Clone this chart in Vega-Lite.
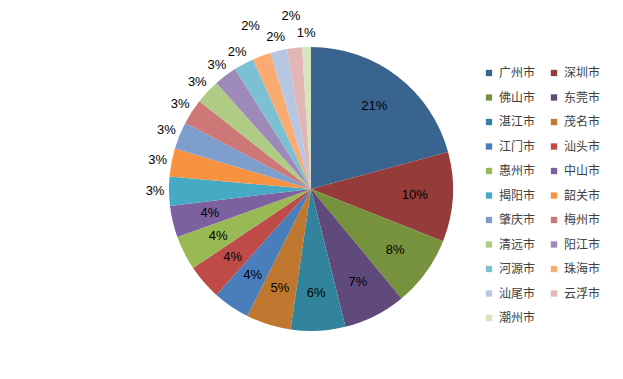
{
  "$schema": "https://vega.github.io/schema/vega-lite/v6.json",
  "width": 608,
  "height": 364,
  "padding": {"left": 7, "top": 7, "right": 8, "bottom": 8},
  "background": "white",
  "config": {
    "view": {"stroke": "#8a8a8a", "strokeWidth": 1},
    "font": "Noto Sans CJK SC"
  },
  "data": {
    "values": [
      {"idx": 1, "city": "广州市", "share": 0.208},
      {"idx": 2, "city": "深圳市", "share": 0.102},
      {"idx": 3, "city": "佛山市", "share": 0.080},
      {"idx": 4, "city": "东莞市", "share": 0.071},
      {"idx": 5, "city": "湛江市", "share": 0.062},
      {"idx": 6, "city": "茂名市", "share": 0.051},
      {"idx": 7, "city": "江门市", "share": 0.042},
      {"idx": 8, "city": "汕头市", "share": 0.040},
      {"idx": 9, "city": "惠州市", "share": 0.039},
      {"idx": 10, "city": "中山市", "share": 0.036},
      {"idx": 11, "city": "揭阳市", "share": 0.033},
      {"idx": 12, "city": "韶关市", "share": 0.032},
      {"idx": 13, "city": "肇庆市", "share": 0.031},
      {"idx": 14, "city": "梅州市", "share": 0.029},
      {"idx": 15, "city": "清远市", "share": 0.028},
      {"idx": 16, "city": "阳江市", "share": 0.026},
      {"idx": 17, "city": "河源市", "share": 0.023},
      {"idx": 18, "city": "珠海市", "share": 0.021},
      {"idx": 19, "city": "汕尾市", "share": 0.019},
      {"idx": 20, "city": "云浮市", "share": 0.017},
      {"idx": 21, "city": "潮州市", "share": 0.010}
    ]
  },
  "transform": [
    {"stack": "share", "groupby": [], "sort": [{"field": "idx", "order": "ascending"}], "as": ["s0", "s1"]},
    {"calculate": "(datum.s0 + datum.s1) / 2", "as": "mid"}
  ],
  "layer": [
    {
      "mark": {"type": "arc", "outerRadius": 142, "strokeWidth": 0},
      "encoding": {
        "theta": {"field": "s0", "type": "quantitative", "scale": {"domain": [0, 1], "zero": true}},
        "theta2": {"field": "s1"},
        "color": {
          "field": "city",
          "type": "nominal",
          "scale": {
            "domain": ["广州市","佛山市","湛江市","江门市","惠州市","揭阳市","肇庆市","清远市","河源市","汕尾市","潮州市","深圳市","东莞市","茂名市","汕头市","中山市","韶关市","梅州市","阳江市","珠海市","云浮市"],
            "range": ["#3A6490","#76923C","#31849B","#4A7EBB","#98B954","#46AAC5","#7E9ECE","#B0CB84","#7CC0D4","#B7C7E2","#D5E3BE","#953B39","#604A7B","#C0772F","#BE4B48","#7D60A0","#F69240","#CD7877","#9D8AB9","#F9AB72","#E2B6B5"]
          },
          "legend": {
            "title": null,
            "orient": "none",
            "legendX": 476,
            "legendY": 60,
            "padding": 0,
            "columns": 2,
            "columnPadding": 12,
            "rowPadding": 12.5,
            "symbolType": "square",
            "symbolSize": 40,
            "symbolStrokeWidth": 0,
            "labelFont": "Noto Sans CJK SC",
            "labelFontSize": 12,
            "labelColor": "#404040",
            "labelOffset": 4
          }
        }
      }
    },
    {
      "transform": [{"filter": "datum.share >= 0.035"}],
      "mark": {"type": "text", "radius": 104, "font": "Liberation Sans", "fontSize": 13, "color": "#000"},
      "encoding": {
        "theta": {"field": "mid", "type": "quantitative"},
        "text": {"field": "share", "type": "quantitative", "format": ".0%"}
      }
    },
    {
      "transform": [{"filter": "datum.share < 0.035 && datum.idx != 18 && datum.idx != 20"}],
      "mark": {"type": "text", "radius": 156, "font": "Liberation Sans", "fontSize": 13, "color": "#000"},
      "encoding": {
        "theta": {"field": "mid", "type": "quantitative"},
        "text": {"field": "share", "type": "quantitative", "format": ".0%"}
      }
    },
    {
      "transform": [{"filter": "datum.idx == 18 || datum.idx == 20"}],
      "mark": {"type": "text", "radius": 174, "font": "Liberation Sans", "fontSize": 13, "color": "#000"},
      "encoding": {
        "theta": {"field": "mid", "type": "quantitative"},
        "text": {"field": "share", "type": "quantitative", "format": ".0%"}
      }
    }
  ]
}
